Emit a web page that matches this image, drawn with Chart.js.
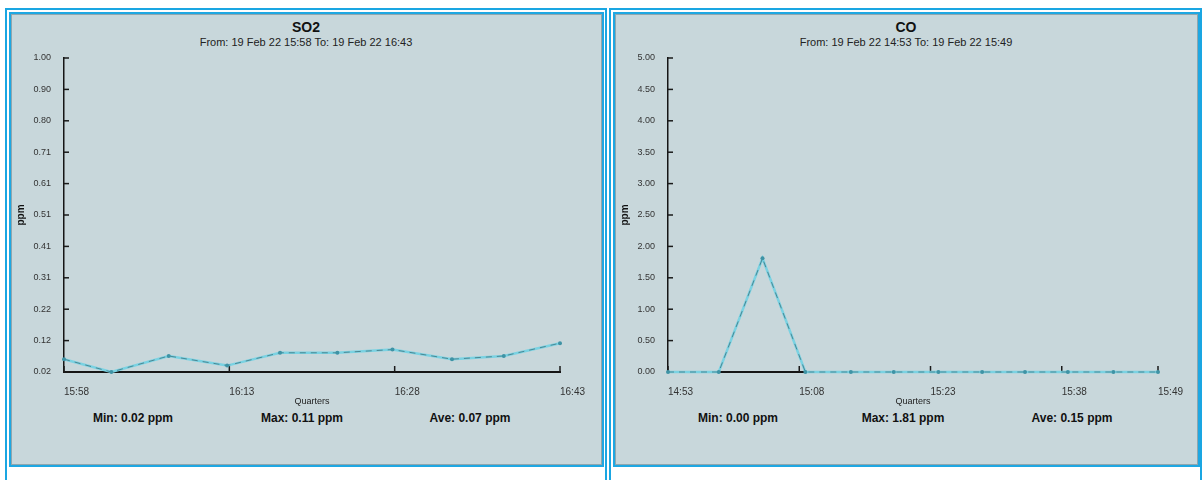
<!DOCTYPE html>
<html><head><meta charset="utf-8">
<script src="https://cdn.jsdelivr.net/npm/chart.js@4.4.1/dist/chart.umd.min.js"></script>
<style>
html,body{margin:0;padding:0;background:#fff;width:1203px;height:480px;overflow:hidden;font-family:"Liberation Sans",Arial,sans-serif;}
.frame{position:absolute;border:2px solid #1aa6e2;border-bottom:none;box-sizing:border-box;}
.panel{position:absolute;background:#c8d7db;border:2px solid #1ea7e2;box-sizing:border-box;box-shadow:inset 0 0 0 1px #8fa6ae;}
.t{position:absolute;transform:translate(-50%,-50%);white-space:nowrap;color:#111;}
.title{font-weight:bold;font-size:14px;}
.sub{font-size:11px;color:#222;}
.stat{font-weight:bold;font-size:12px;}
canvas{position:absolute;}
</style></head>
<body>
<div class="frame" style="left:5px;top:8px;width:602px;height:472px;"></div>
<div class="panel" style="left:9px;top:12px;width:595px;height:455px;"></div>
<div class="frame" style="left:609px;top:8px;width:593px;height:472px;"></div>
<div class="panel" style="left:613px;top:12px;width:587px;height:455px;"></div>

<div class="t title" style="left:306px;top:27px;">SO2</div>
<div class="t sub" style="left:306px;top:42px;">From: 19 Feb 22 15:58 To: 19 Feb 22 16:43</div>
<div class="t title" style="left:906px;top:27px;">CO</div>
<div class="t sub" style="left:906px;top:42px;">From: 19 Feb 22 14:53 To: 19 Feb 22 15:49</div>

<div class="t stat" style="left:133px;top:418px;">Min: 0.02 ppm</div>
<div class="t stat" style="left:302px;top:418px;">Max: 0.11 ppm</div>
<div class="t stat" style="left:470px;top:418px;">Ave: 0.07 ppm</div>
<div class="t stat" style="left:738px;top:418px;">Min: 0.00 ppm</div>
<div class="t stat" style="left:903px;top:418px;">Max: 1.81 ppm</div>
<div class="t stat" style="left:1072px;top:418px;">Ave: 0.15 ppm</div>

<canvas id="so2" width="595" height="454" style="left:9px;top:12px;"></canvas>
<canvas id="co" width="587" height="454" style="left:613px;top:12px;"></canvas>

<script>
// ---- data ----
const so2Minutes = [0, 4.3, 9.5, 14.8, 19.6, 24.8, 29.8, 35.2, 39.9, 45];
const so2Values  = [0.06, 0.02, 0.07, 0.04, 0.08, 0.08, 0.09, 0.06, 0.07, 0.11];
const so2YTickLabels = ['0.02','0.12','0.22','0.31','0.41','0.51','0.61','0.71','0.80','0.90','1.00'];
const so2XTickMinutes = [0, 15, 30, 45];
const so2XTickLabels  = ['15:58','16:13','16:28','16:43'];

const coMinutes = [0, 5.8, 10.8, 15.7, 20.9, 25.8, 30.9, 35.9, 40.8, 45.7, 50.9, 56];
const coValues  = [0, 0, 1.81, 0, 0, 0, 0, 0, 0, 0, 0, 0];
const coYTickLabels = ['0.00','0.50','1.00','1.50','2.00','2.50','3.00','3.50','4.00','4.50','5.00'];
const coXTickMinutes = [0, 15, 30, 45, 56];
const coXTickLabels  = ['14:53','15:08','15:23','15:38','15:49'];

Chart.defaults.font.family = '"Liberation Sans", Arial, sans-serif';
Chart.defaults.color = '#2a2a2a';
Chart.defaults.animation = false;

const innerTicks = {
  id: 'innerTicks',
  beforeDatasetsDraw(chart) {
    const {ctx, scales: {x, y}} = chart;
    ctx.save();
    ctx.strokeStyle = '#1a1a1a';
    ctx.lineWidth = 1.5;
    y.ticks.forEach(t => {
      const py = y.getPixelForValue(t.value);
      ctx.beginPath(); ctx.moveTo(y.right, py); ctx.lineTo(y.right + 5, py); ctx.stroke();
    });
    x.ticks.forEach(t => {
      const px = x.getPixelForValue(t.value);
      ctx.beginPath(); ctx.moveTo(px, x.top); ctx.lineTo(px, x.top - 6); ctx.stroke();
    });
    ctx.restore();
  }
};

function makeChart(id, minutes, values, yMin, yMax, yLabels, xTickMin, xTickLabels, xMax, padRight) {
  const pts = minutes.map((m, i) => ({x: m, y: values[i]}));
  const yStep = (yMax - yMin) / (yLabels.length - 1);
  return new Chart(document.getElementById(id), {
    type: 'line',
    data: {
      datasets: [
        { data: pts, borderColor: '#4a8794', borderWidth: 1, borderDash: [6, 5],
          pointRadius: 2, pointBackgroundColor: '#3f93a5', pointBorderWidth: 0, tension: 0, clip: false },
        { data: pts, borderColor: '#7ad2e2', borderWidth: 2.5, pointRadius: 0, tension: 0, clip: false }
      ]
    },
    options: {
      responsive: false,
      layout: { padding: { top: 46, right: padRight, bottom: 59, left: 0 } },
      plugins: { legend: { display: false }, tooltip: { enabled: false } },
      scales: {
        x: {
          type: 'linear', min: 0, max: xMax,
          grid: { display: false },
          border: { display: true, color: '#151515', width: 2 },
          afterBuildTicks: s => { s.ticks = xTickMin.map(v => ({value: v})); },
          afterFit: s => { s.height = 35; },
          ticks: {
            autoSkip: false, maxRotation: 0, align: 'start', padding: 6,
            font: { size: 10 }, color: '#333',
            callback: (v) => { const i = xTickMin.indexOf(v); return i >= 0 ? xTickLabels[i] : ''; }
          },
          title: { display: true, text: 'Quarters', font: { size: 9 }, color: '#222', padding: { top: 0, bottom: 0 } }
        },
        y: {
          type: 'linear', min: yMin, max: yMax,
          grid: { display: false },
          border: { display: true, color: '#151515', width: 1.5 },
          afterBuildTicks: s => { s.ticks = yLabels.map((l, i) => ({value: yMin + i * yStep})); },
          afterFit: s => { s.width = 55; },
          ticks: {
            autoSkip: false, padding: 5, font: { size: 9 }, color: '#333',
            callback: (v, i) => yLabels[i]
          },
          title: { display: true, text: 'ppm', font: { size: 10, weight: 'bold' }, color: '#111', padding: { top: 6, bottom: 0 } }
        }
      }
    },
    plugins: [innerTicks]
  });
}

makeChart('so2', so2Minutes, so2Values, 0.02, 1.00, so2YTickLabels, so2XTickMinutes, so2XTickLabels, 45, 44);
makeChart('co', coMinutes, coValues, 0, 5, coYTickLabels, coXTickMinutes, coXTickLabels, 56, 42);
</script>
</body></html>
